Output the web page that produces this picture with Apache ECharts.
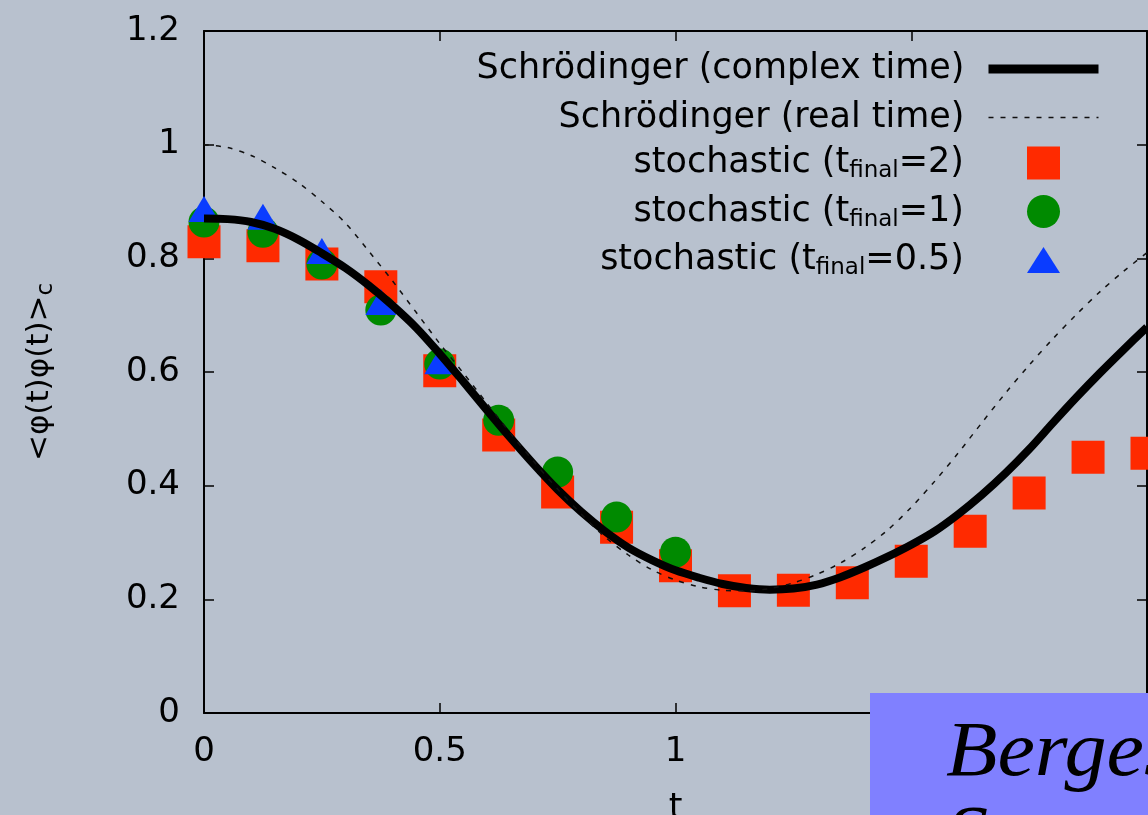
<!DOCTYPE html>
<html>
<head>
<meta charset="utf-8">
<script src="https://cdn.jsdelivr.net/npm/echarts@6.0.0/dist/echarts.min.js"></script>
<style>
  html, body { margin: 0; padding: 0; background: #b8c1ce; }
  #chart { width: 1148px; height: 815px; }
</style>
</head>
<body>
<div id="chart"></div>
<script>
// time points of the stochastic runs
const tStoch = [0, 0.125, 0.25, 0.375, 0.5, 0.625, 0.75, 0.875, 1, 1.125, 1.25, 1.375, 1.5, 1.625, 1.75, 1.875, 2];
const stochFinal2 = [0.829, 0.822, 0.790, 0.750, 0.602, 0.489, 0.389, 0.327, 0.259, 0.215, 0.216, 0.229, 0.267, 0.320, 0.387, 0.450, 0.457];
const stochFinal1 = [0.864, 0.846, 0.790, 0.709, 0.614, 0.515, 0.424, 0.345, 0.283];
const stochFinal05 = [0.887, 0.873, 0.813, 0.723, 0.619];

// Schrödinger curves, sampled every 0.05
const tCurve = [0, 0.05, 0.1, 0.15, 0.2, 0.25, 0.3, 0.35, 0.4, 0.45, 0.5, 0.55, 0.6, 0.65, 0.7, 0.75, 0.8, 0.85, 0.9, 0.95,
  1, 1.05, 1.1, 1.15, 1.2, 1.25, 1.3, 1.35, 1.4, 1.45, 1.5, 1.55, 1.6, 1.65, 1.7, 1.75, 1.8, 1.85, 1.9, 1.95, 2];
const complexTime = [0.870, 0.869, 0.864, 0.852, 0.833, 0.809, 0.783, 0.752, 0.717, 0.678, 0.632, 0.583, 0.533, 0.484, 0.437,
  0.393, 0.354, 0.320, 0.291, 0.269, 0.251, 0.238, 0.227, 0.220, 0.217, 0.219, 0.226, 0.239, 0.256, 0.275, 0.296, 0.320,
  0.350, 0.384, 0.422, 0.464, 0.510, 0.555, 0.598, 0.639, 0.679];
const realTime = [1.000, 0.995, 0.981, 0.959, 0.933, 0.900, 0.862, 0.812, 0.760, 0.705, 0.650, 0.598, 0.545, 0.492, 0.442,
  0.394, 0.350, 0.310, 0.278, 0.252, 0.234, 0.222, 0.216, 0.215, 0.219, 0.229, 0.244, 0.264, 0.290, 0.322, 0.362, 0.408,
  0.458, 0.511, 0.563, 0.612, 0.658, 0.701, 0.741, 0.777, 0.810];

const seriesNames = ['Schrödinger (complex time)', 'Schrödinger (real time)',
  'stochastic (tfinal=2)', 'stochastic (tfinal=1)', 'stochastic (tfinal=0.5)'];
const legendLabels = ['Schrödinger (complex time)', 'Schrödinger (real time)',
  'stochastic (t{s|final}=2)', 'stochastic (t{s|final}=1)', 'stochastic (t{s|final}=0.5)'];

const FONT = 'DejaVu Sans';
const subStyle = { fontFamily: FONT, fontSize: 23, lineHeight: 12, verticalAlign: 'bottom', color: '#000' };
const legendText = pad => ({
  fontFamily: FONT, fontSize: 35, color: '#000', lineHeight: 40, padding: [0, pad, 0, 0],
  rich: { s: subStyle }
});
const legendFormatter = name => legendLabels[seriesNames.indexOf(name)];

const pairs = (xs, ys) => ys.map((y, i) => [xs[i], y]);

const axisLine = { show: true, onZero: false, lineStyle: { color: '#000', width: 2 } };
const axisTick = { show: true, inside: true, length: 10, lineStyle: { color: '#000', width: 1.5 } };
const labelStyle = { fontFamily: FONT, fontSize: 34, color: '#000' };

const chart = echarts.init(document.getElementById('chart'), null, { renderer: 'canvas' });

chart.setOption({
  animation: false,
  backgroundColor: '#b8c1ce',
  grid: { left: 204, right: 1, top: 31, bottom: 102, containLabel: false, outerBoundsMode: 'none' },
  legend: [
    {
      // the two curves
      orient: 'vertical', align: 'right', right: 45, top: 49, padding: 0,
      itemGap: 8.5, itemWidth: 110, itemHeight: 33, selectedMode: false,
      itemStyle: { color: 'rgba(0,0,0,0)', opacity: 0, borderWidth: 0 },
      data: [
        { name: seriesNames[0], lineStyle: { width: 9 } },
        { name: seriesNames[1], lineStyle: { width: 1.5 } }
      ],
      formatter: legendFormatter,
      textStyle: legendText(19)
    },
    {
      // the three stochastic runs
      orient: 'vertical', align: 'right', right: 88, top: 143, padding: 0,
      itemGap: 8.5, itemWidth: 33, itemHeight: 33, selectedMode: false, symbolKeepAspect: true,
      data: [
        { name: seriesNames[2], icon: 'rect' },
        { name: seriesNames[3], icon: 'circle' },
        { name: seriesNames[4], icon: 'path://M16,0 L32,25 L0,25 Z' }
      ],
      formatter: legendFormatter,
      textStyle: legendText(58)
    }
  ],
  xAxis: [
    {
      type: 'value', min: 0, max: 2, interval: 0.5, position: 'bottom',
      axisLine, axisTick, splitLine: { show: false },
      axisLabel: Object.assign({ margin: 22 }, labelStyle),
      name: 't', nameLocation: 'middle', nameGap: 78, nameMoveOverlap: false,
      nameTextStyle: { fontFamily: FONT, fontSize: 35, color: '#000' }
    },
    {
      type: 'value', min: 0, max: 2, interval: 0.5, position: 'top',
      axisLine, axisTick, splitLine: { show: false }, axisLabel: { show: false }
    }
  ],
  yAxis: [
    {
      type: 'value', min: 0, max: 1.2, interval: 0.2, position: 'left',
      axisLine, axisTick, splitLine: { show: false },
      axisLabel: Object.assign({ margin: 24 }, labelStyle),
      name: '<φ(t)φ(t)>{c|c}', nameLocation: 'middle', nameGap: 146, nameMoveOverlap: false,
      nameTextStyle: { fontFamily: FONT, fontSize: 31, color: '#000', lineHeight: 36, rich: { c: subStyle } }
    },
    {
      type: 'value', min: 0, max: 1.2, interval: 0.2, position: 'right',
      axisLine, axisTick, splitLine: { show: false }, axisLabel: { show: false }
    }
  ],
  series: [
    {
      name: seriesNames[0], type: 'line', data: pairs(tCurve, complexTime),
      smooth: 0.3, symbol: 'none', showSymbol: false,
      lineStyle: { color: '#000', width: 8 }, itemStyle: { color: '#000' }
    },
    {
      name: seriesNames[1], type: 'line', data: pairs(tCurve, realTime),
      smooth: 0.3, symbol: 'none', showSymbol: false,
      lineStyle: { color: '#111', width: 1.5, type: [5, 7] }, itemStyle: { color: '#111' }
    },
    {
      name: seriesNames[2], type: 'scatter', data: pairs(tStoch, stochFinal2),
      symbol: 'rect', symbolSize: 33, clip: false,
      itemStyle: { color: '#ff2a00', opacity: 1 }
    },
    {
      name: seriesNames[3], type: 'scatter', data: pairs(tStoch, stochFinal1),
      symbol: 'circle', symbolSize: 31, clip: false,
      itemStyle: { color: '#008a00', opacity: 1 }
    },
    {
      name: seriesNames[4], type: 'scatter', data: pairs(tStoch, stochFinal05),
      symbol: 'triangle', symbolSize: [31, 26], clip: false,
      itemStyle: { color: '#0a3cff', opacity: 1 }
    }
  ],
  graphic: [
    { type: 'rect', x: 870, y: 693, shape: { x: 0, y: 0, width: 300, height: 140 }, style: { fill: '#8080ff' }, z: 100 },
    {
      type: 'text', x: 946, y: 712, scaleX: 1.08, z: 101,
      style: { text: 'Berges,\nStamatescu', font: 'italic 78px "Liberation Serif"', fill: '#000', lineHeight: 84, verticalAlign: 'top' }
    }
  ]
});
</script>
</body>
</html>
